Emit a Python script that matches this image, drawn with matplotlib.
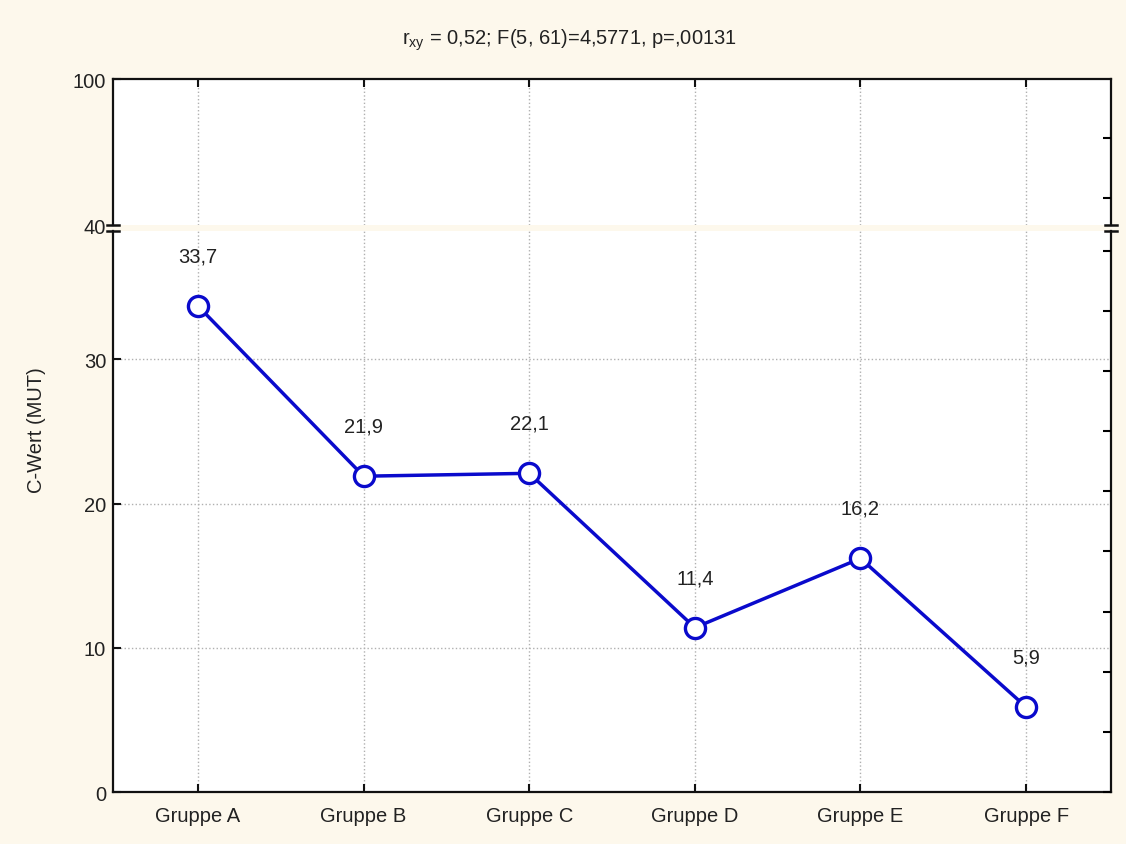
import numpy as np
import matplotlib
matplotlib.use("Agg")
import matplotlib.pyplot as plt
from matplotlib.ticker import MultipleLocator, FixedLocator

plt.rcParams['font.family'] = ['Liberation Sans', 'DejaVu Sans']

# Data
groups = ['Gruppe A', 'Gruppe B', 'Gruppe C', 'Gruppe D', 'Gruppe E', 'Gruppe F']
values = [33.7, 21.9, 22.1, 11.4, 16.2, 5.9]
labels = ['33,7', '21,9', '22,1', '11,4', '16,2', '5,9']
title = r'r$\mathregular{_{xy}}$ = 0,52; F(5, 61)=4,5771, p=,00131'

bg = '#fdf8ec'
line_col = '#0a0acc'
grid_col = '#b0b0b0'
txt_col = '#222222'
fs = 14.5

fig = plt.figure(figsize=(11.26, 8.45), dpi=100, facecolor=bg)
ax_lo = fig.add_axes([0.1004, 0.0615, 0.8863, 0.6639])
ax_hi = fig.add_axes([0.1004, 0.7325, 0.8863, 0.1728], sharex=ax_lo)

x = np.arange(len(groups))

for ax in (ax_lo, ax_hi):
    ax.set_facecolor('white')
    for s in ax.spines.values():
        s.set_linewidth(1.6)
        s.set_color('#111111')
    ax.tick_params(direction='in', length=6, width=1.5, labelsize=fs,
                   labelcolor=txt_col, color='#111111', right=True, top=True,
                   pad=5)
    ax.grid(True, axis='x', linestyle=':', color=grid_col, linewidth=1)
    ax.set_axisbelow(True)

# lower part
ax_lo.plot(x, values, color=line_col, linewidth=2.5, marker='o',
           markersize=14.5, markerfacecolor='white', markeredgecolor=line_col,
           markeredgewidth=2.4, zorder=3)
for xi, v, lab in zip(x, values, labels):
    ax_lo.annotate(lab, (xi, v), xytext=(0, 36), textcoords='offset points',
                   ha='center', va='center', fontsize=fs, color=txt_col)

ax_lo.set_ylim(0, 38.9)
ax_lo.set_xlim(-0.513, 5.513)
ax_lo.yaxis.set_major_locator(FixedLocator([0, 10, 20, 30]))
ax_lo.grid(True, axis='y', linestyle=':', color=grid_col, linewidth=1)
ax_lo.spines['top'].set_visible(False)
ax_lo.tick_params(top=False, right=False)
ax_lo.set_xticks(x)
ax_lo.set_xticklabels(groups)
ax_lo.tick_params(axis='x', pad=10)

# right side unlabeled ticks
ax_r = ax_lo.twinx()
ax_r.set_ylim(0, 38.9)
ax_r.yaxis.set_major_locator(MultipleLocator(4.17))
ax_r.tick_params(direction='in', length=6, width=1.5, labelright=False)
for s in ax_r.spines.values():
    s.set_visible(False)

# upper part
ax_hi.set_ylim(40, 100)
ax_hi.yaxis.set_major_locator(FixedLocator([40, 100]))
ax_hi.spines['bottom'].set_visible(False)
ax_hi.tick_params(axis='x', bottom=False, labelbottom=False)
ax_hi.tick_params(axis='y', right=False)
ax_hr = ax_hi.twinx()
ax_hr.set_ylim(40, 100)
ax_hr.yaxis.set_major_locator(FixedLocator([51.2, 75.6]))
ax_hr.tick_params(direction='in', length=6, width=1.5, labelright=False)
for s in ax_hr.spines.values():
    s.set_visible(False)
ax_hi.yaxis.get_major_ticks()[0].tick1line.set_visible(False)

# break caps
for ax, yv in ((ax_lo, 1.0), (ax_hi, 0.0)):
    for xv in (0.0, 1.0):
        ax.plot([xv - 0.006, xv + 0.006], [yv, yv], transform=ax.transAxes,
                color='#111111', linewidth=1.8, clip_on=False)

fig.text(0.506, 1 - 40 / 845, title, ha='center', va='center', fontsize=fs,
         color=txt_col)
fig.text(36 / 1126, 1 - 430 / 845, 'C-Wert (MUT)', rotation=90, ha='center',
         va='center', fontsize=fs, color=txt_col)

fig.savefig('out.png', dpi=100, facecolor=bg)
